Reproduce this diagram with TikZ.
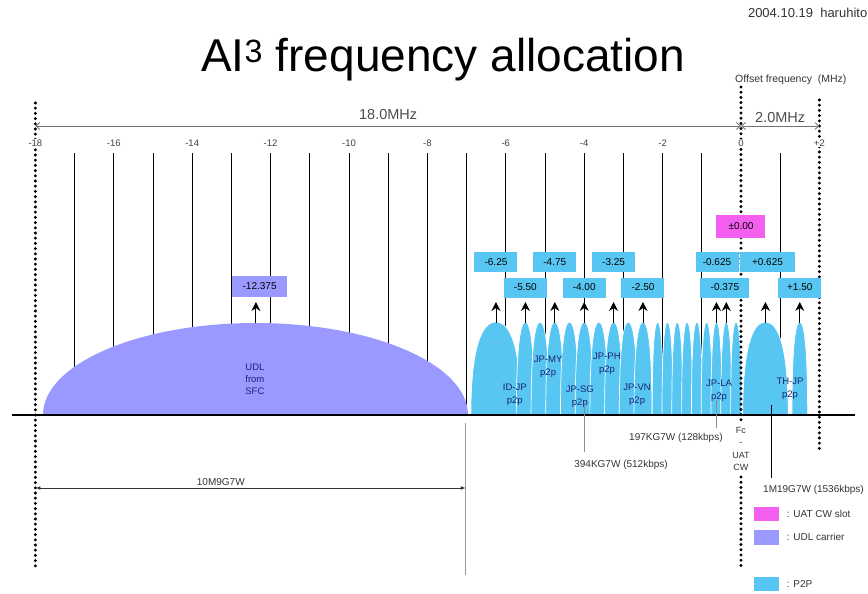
\documentclass[tikz,border=0pt]{standalone}
\usepackage{fontspec}
\setmainfont{Liberation Sans}
\usepackage{tikz}
\usetikzlibrary{positioning,arrows.meta,calc}

\definecolor{p2pblue}{RGB}{88,198,242}
\definecolor{udlblue}{RGB}{153,153,255}
\definecolor{cwpink}{RGB}{245,95,240}
\definecolor{navytext}{RGB}{25,35,115}

\tikzset{
  freqline/.style={line width=0.6pt},
  dotline/.style={line width=3.3pt, dash pattern=on 0pt off 5.2pt, line cap=round},
  spanarrow/.style={black!55, line width=0.8pt, {Straight Barb[length=4pt,width=7pt]}-{Straight Barb[length=4pt,width=7pt]}},
  offbox/.style={fill=p2pblue, minimum width=43pt, minimum height=20pt, inner sep=1pt, font=\fontsize{10}{12}\selectfont},
  lobe/.style={fill=p2pblue, draw=white, line width=0.7pt},
  lobetext/.style={text=navytext, align=center, inner sep=0pt, font=\fontsize{9.5}{13}\selectfont},
  uparrow/.style={-{Stealth[length=9pt,width=9pt,inset=3pt]}, line width=0.8pt},
  notetext/.style={text=black!80, inner sep=0pt, font=\fontsize{10}{12}\selectfont},
  ticklabel/.style={text=black!75, fill=white, inner sep=1pt, font=\fontsize{9.5}{11}\selectfont},
}

\begin{document}
\begin{tikzpicture}[x=39.2pt, y=-1pt]
  \useasboundingbox (-18.903,0) rectangle (3.240,594);
  % title and header
  \node[anchor=base, font=\fontsize{46}{50}\selectfont] (title) at (-7.6,72) {AI\textsuperscript{3} frequency allocation};
  \node[anchor=base east, notetext, font=\fontsize{13}{15}\selectfont] (date) at (3.227,18) {2004.10.19\ \ haruhito};
  \node[anchor=base west, notetext, font=\fontsize{10.5}{12}\selectfont] (offset) at (-0.153,83) {Offset frequency\ \ (MHz)};

  % frequency grid
  \foreach \f in {-17,...,-1,1}
    \draw[freqline] (\f,153) -- (\f,415);

  % UDL carrier
  \path[fill=udlblue] (-17.806,415) arc[start angle=180, end angle=0, x radius=212.5pt, y radius=92pt] -- cycle;

  % P2P carriers
  \foreach \c/\w in {-6.25/0.64, -5.5/0.23, -5.125/0.23, -4.75/0.23, -4.375/0.23, -4.0/0.23, -3.625/0.23, -3.25/0.23, -2.875/0.23, -2.5/0.23,
                     -2.125/0.14, -1.875/0.14, -1.625/0.14, -1.375/0.14, -1.125/0.14, -0.875/0.14, -0.625/0.14, -0.375/0.14, -0.125/0.14,
                     0.625/0.58, 1.5/0.2}
    \path[lobe] (\c-\w,415) .. controls (\c-\w,350) and (\c-0.6*\w,322) .. (\c,322)
                .. controls (\c+0.6*\w,322) and (\c+\w,350) .. (\c+\w,415) -- cycle;

  \draw[line width=1.2pt] (-18.597,415) -- (2.908,415);

  % edges of the band
  \draw[dotline] (-18,103) -- (-18,570);
  \draw[dotline] (0,87) -- (0,421);
  \draw[dotline] (0,477) -- (0,567);
  \draw[dotline] (2,100) -- (2,452);

  \foreach \f in {-18,-16,...,-2}
    \node[ticklabel] (t\f) at (\f,143) {\f};
  \node[ticklabel] (t0) at (0,143) {0};
  \node[ticklabel] (t2) at (2,143) {+2};

  \draw[spanarrow] (-18,126) -- node[above=3pt, text=black!70, font=\fontsize{14.5}{16}\selectfont] (bw18) {18.0MHz} (0,126);
  \draw[spanarrow] (0,126) -- node[above=0pt, text=black!70, font=\fontsize{14.5}{16}\selectfont] (bw2) {2.0MHz} (2,126);

  % offset frequencies
  \node[offbox, fill=cwpink, minimum width=49pt, minimum height=23pt] (cwbox) at (0,226.5) {±0.00};
  \node[offbox, fill=udlblue, minimum width=55pt, minimum height=21pt] (udlbox) at (-12.28,286.5) {-12.375};
  \foreach \f/\y/\t [count=\i] in {-6.25/262/-6.25, -4.75/262/-4.75, -3.25/262/-3.25, -0.612/262/-0.625,
                                   -5.5/287.5/-5.50, -4.0/287.5/-4.00, -2.5/287.5/-2.50, 1.5/287.5/+1.50}
    \node[offbox] (box\i) at (\f,\y) {\t};
  \node[offbox, minimum width=49pt] (box9) at (-0.41,287.5) {-0.375};
  \node[offbox, minimum width=55pt] (box10) at (0.675,262) {+0.625};

  \foreach \f in {-12.375, -6.25, -5.5, -4.75, -4.0, -3.25, -2.5, -0.625, -0.375, 0.625, 1.5}
    \draw[uparrow] (\f,323) -- (\f,302);

  % carrier names
  \node[lobetext, font=\fontsize{9.5}{12}\selectfont] (udl) at (-12.4,379) {UDL\\from\\SFC};
  \node[lobetext] (idjp) at (-5.77,395) {ID-JP\\p2p};
  \node[lobetext] (jpmy) at (-4.92,366.5) {JP-MY\\p2p};
  \node[lobetext] (jpsg) at (-4.11,396.5) {JP-SG\\p2p};
  \node[lobetext] (jpph) at (-3.42,364) {JP-PH\\p2p};
  \node[lobetext] (jpvn) at (-2.65,394.5) {JP-VN\\p2p};
  \node[lobetext] (jpla) at (-0.56,390.5) {JP-LA\\p2p};
  \node[lobetext] (thjp) at (1.25,389) {TH-JP\\p2p};

  % emission designators
  \coordinate (sg) at (-4.0,402);
  \coordinate (la) at (-0.625,400);
  \coordinate (th) at (0.765,405);
  \node[notetext] (e394) at (-3.06,465) {394KG7W (512kbps)};
  \node[notetext] (e197) at (-1.66,438) {197KG7W (128kbps)};
  \node[notetext] (e1m19) at (1.85,490) {1M19G7W (1536kbps)};
  \draw[black!45, line width=0.8pt] (sg) -- ++(0,50);
  \draw[black!45, line width=0.8pt] (la) -- ++(0,28);
  \draw[line width=0.8pt] (th) -- ++(0,73);
  \node[notetext, align=center, font=\fontsize{9}{12.5}\selectfont] (fc) at (0,449) {Fc\\-\\UAT\\CW};

  \coordinate (udlend) at (-7.02,423);
  \draw[black!40, line width=1pt] (udlend) -- ++(0,152);
  \draw[{Latex[length=5pt]}-{Latex[length=5pt]}, line width=0.8pt, black!80] (-18,488) -- (udlend |- 0,488);
  \node[notetext] (e10m9) at (-13.27,482) {10M9G7W};

  % legend
  \node[fill=cwpink, minimum width=25pt, minimum height=14pt, inner sep=0pt] (lgcw) at (0.638,514) {};
  \node[fill=udlblue, minimum width=25pt, minimum height=15pt, inner sep=0pt] (lgudl) at (0.638,537) {};
  \node[fill=p2pblue, minimum width=25pt, minimum height=14pt, inner sep=0pt] (lgp2p) at (0.638,584) {};
  \node[notetext, right=8pt of lgcw] (lgcwtext) {: UAT CW slot};
  \node[notetext, right=8pt of lgudl] (lgudltext) {: UDL carrier};
  \node[notetext, right=8pt of lgp2p] (lgp2ptext) {: P2P};
\end{tikzpicture}
\end{document}
